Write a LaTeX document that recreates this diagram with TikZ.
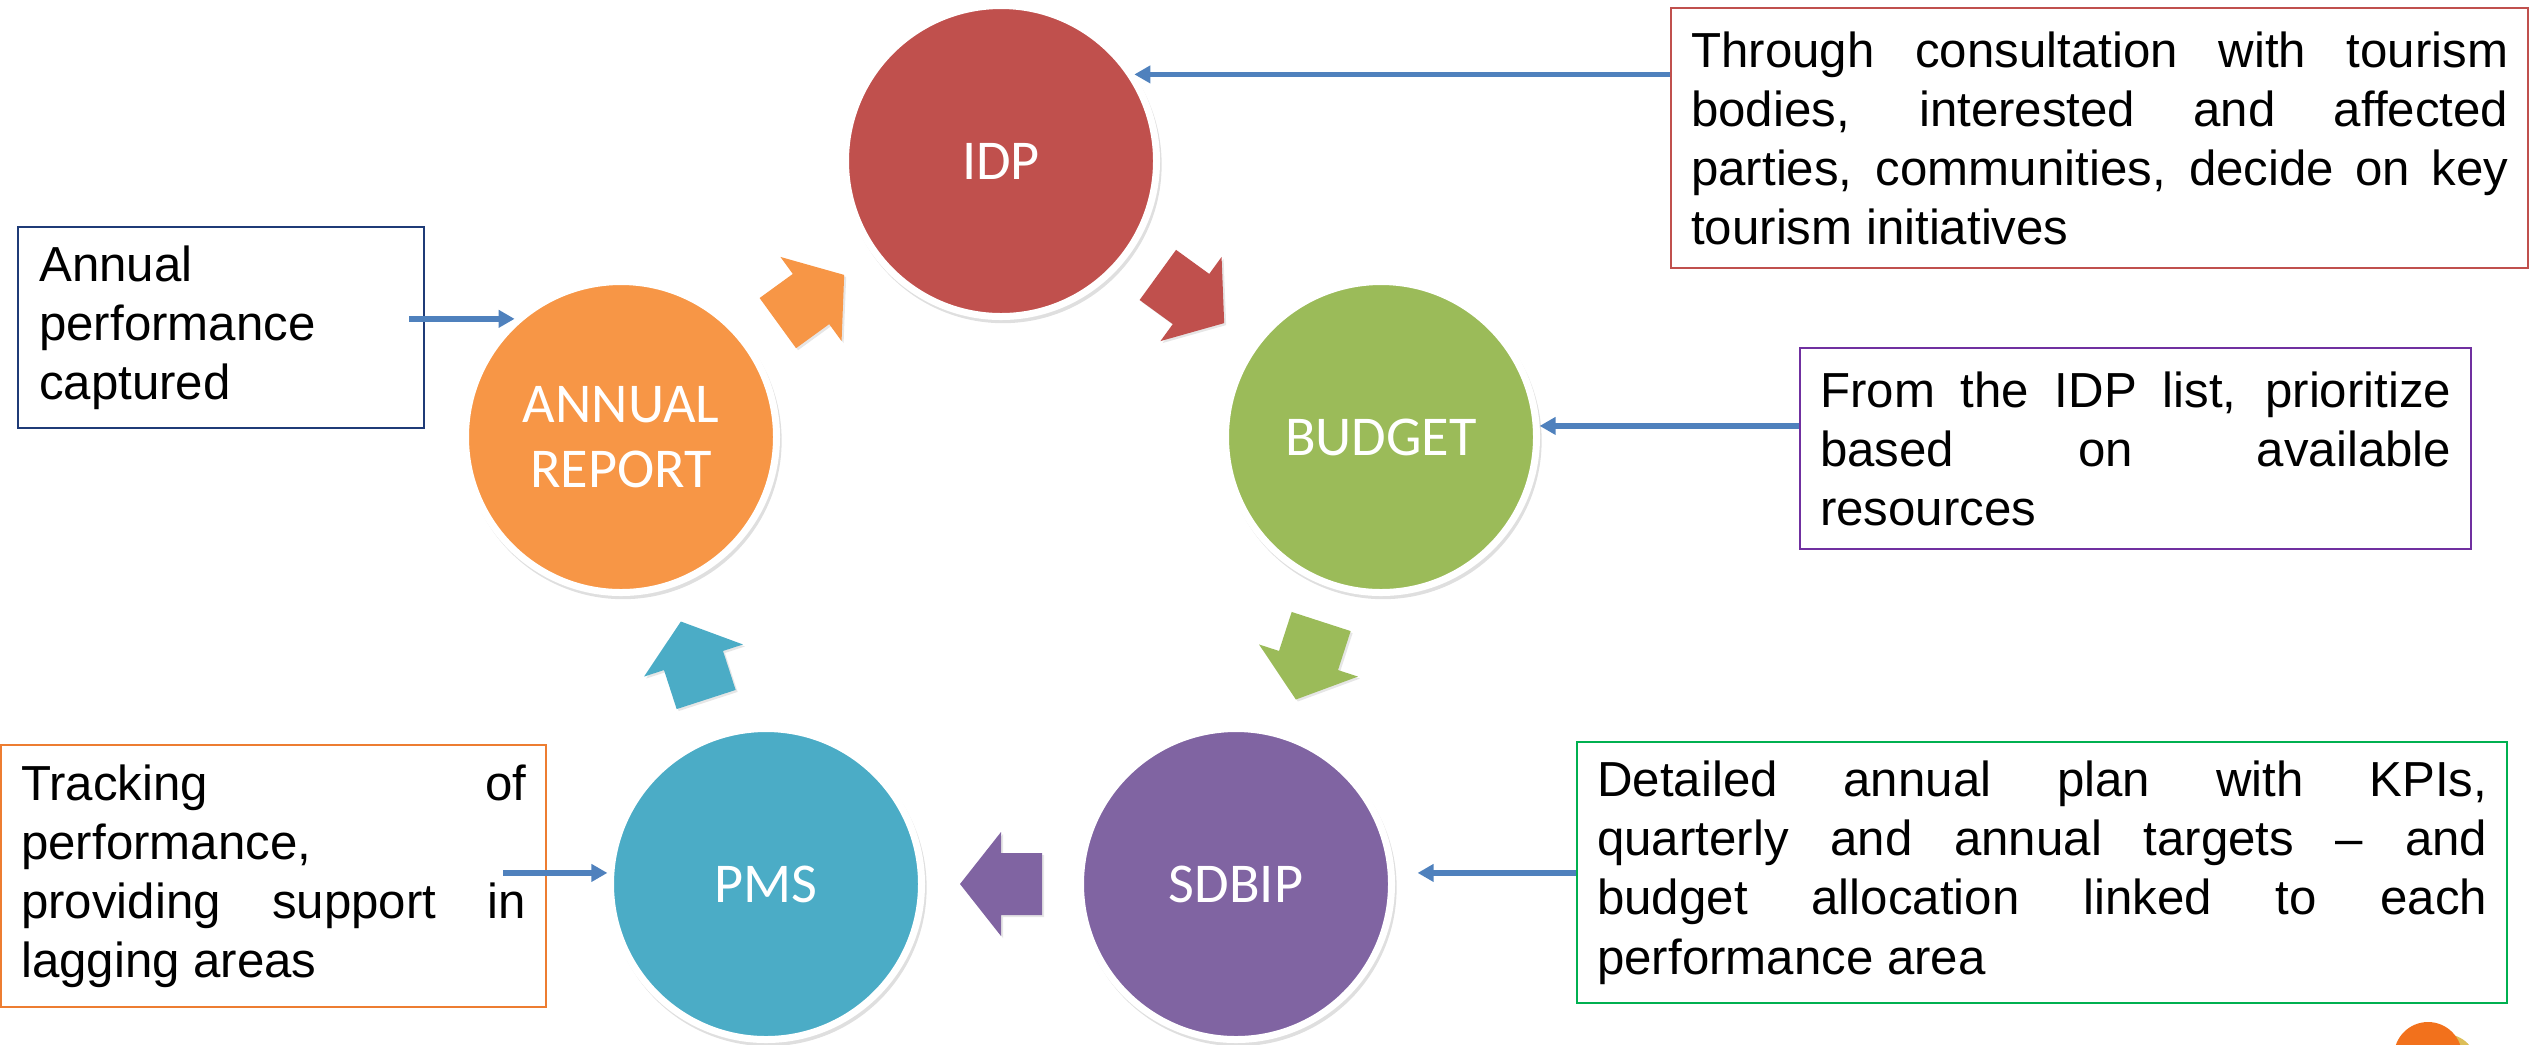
\documentclass[tikz,border=0pt]{standalone}
\usepackage{fontspec}
\setmainfont{Liberation Sans}
\newfontfamily\stagefont{Carlito}
\usetikzlibrary{calc,shadows,arrows.meta}

\definecolor{idpred}{HTML}{C0504D}
\definecolor{budgetgreen}{HTML}{9BBB59}
\definecolor{sdbippurple}{HTML}{8064A2}
\definecolor{pmsteal}{HTML}{4BACC6}
\definecolor{reportorange}{HTML}{F79646}
\definecolor{linkblue}{HTML}{4F81BD}
\definecolor{navyframe}{HTML}{1F3B77}
\definecolor{orangeframe}{HTML}{ED7D31}
\definecolor{purpleframe}{HTML}{7030A0}
\definecolor{greenframe}{HTML}{00B050}
\definecolor{logoorange}{HTML}{F2711C}
\definecolor{logoyellow}{HTML}{DDBE58}

\tikzset{
  stage/.style={circle, minimum size=3.11cm, inner sep=0pt, draw=white,
    line width=0.07cm, text=white, align=center,
    font=\stagefont\fontsize{16pt}{18.5pt}\selectfont,
    drop shadow={shadow xshift=0.02cm, shadow yshift=-0.035cm, shadow scale=1.02, opacity=0.25}},
  note/.style={draw, line width=0.7pt, anchor=north west, inner xsep=0.2cm,
    inner ysep=0pt, align=justify, font=\fontsize{14pt}{16.8pt}\selectfont},
  infoarrow/.style={draw=linkblue, line width=0.055cm,
    -{Triangle[length=0.16cm,width=0.17cm]}},
  cycarrow/.pic={
    \path[pic actions, drop shadow={shadow xshift=0.02cm, shadow yshift=-0.02cm, opacity=0.2}]
      (-0.41,-0.31) -- (0,-0.31) -- (0,-0.52) -- (0.41,0) -- (0,0.52)
      -- (0,0.31) -- (-0.41,0.31) -- cycle;
  }
}

\begin{document}
\begin{tikzpicture}
\useasboundingbox (0,0) rectangle (25.29,-10.44);
\clip (0,0) rectangle (25.29,-10.44);

% the five stages of the cycle
\node[stage, fill=idpred] (idp) at (10.01,-1.61) {IDP};
\node[stage, fill=budgetgreen] (budget) at (13.81,-4.37) {BUDGET};
\node[stage, fill=sdbippurple] (sdbip) at (12.36,-8.84) {SDBIP};
\node[stage, fill=pmsteal] (pms) at (7.66,-8.84) {PMS};
\node[stage, fill=reportorange] (annual) at (6.21,-4.37) {ANNUAL\\REPORT};

% block arrows between the stages
\foreach \from/\to/\col in {idp/budget/idpred, budget/sdbip/budgetgreen,
    sdbip/pms/sdbippurple, pms/annual/pmsteal, annual/idp/reportorange}
  \path let \p1=($(\to)-(\from)$), \n1={atan2(\y1,\x1)} in
    ($(\from)!0.5!(\to)$) pic[rotate=\n1, fill=\col] {cycarrow};

% notes
\node[note, draw=idpred, text width=8.17cm, minimum height=2.60cm] (noteidp) at (16.70,-0.07)
  {Through consultation with tourism\linebreak bodies, interested and affected\linebreak
   parties, communities, decide on key\linebreak tourism initiatives};
\node[note, draw=purpleframe, text width=6.31cm, minimum height=2.01cm] (notebudget) at (17.99,-3.47)
  {From the IDP list, prioritize\linebreak based on available\linebreak resources};
\node[note, draw=greenframe, text width=8.90cm, minimum height=2.61cm] (notesdbip) at (15.76,-7.41)
  {Detailed annual plan with KPIs,\linebreak quarterly and annual targets -- and\linebreak
   budget allocation linked to each\linebreak performance area};
\node[note, draw=orangeframe, text width=5.05cm, minimum height=2.62cm] (notepms) at (0,-7.44)
  {Tracking of\linebreak performance,\\ providing support in\linebreak lagging areas};
\node[note, draw=navyframe, text width=3.64cm, minimum height=2.01cm, inner xsep=0.21cm] (noteannual) at (0.17,-2.26)
  {Annual\\ performance\\ captured};

% links from the notes
\draw[infoarrow] (noteidp.west |- idp.33) -- (idp.33);
\draw[infoarrow] (notebudget.west |- budget.4) -- (budget.4);
\draw[infoarrow] (notesdbip.west |- sdbip.4) -- ([xshift=0.23cm]sdbip.4);
\draw[infoarrow] ($(notepms.east |- pms.176)+(-0.44,0)$) -- (pms.176);
\draw[infoarrow] ($(noteannual.east |- annual.132)+(-0.16,0)$) -- (annual.132);

% logo corner
\fill[logoyellow] (24.45,-10.66) circle (0.32);
\fill[logoorange] (24.28,-10.56) circle (0.34);
\end{tikzpicture}
\end{document}
